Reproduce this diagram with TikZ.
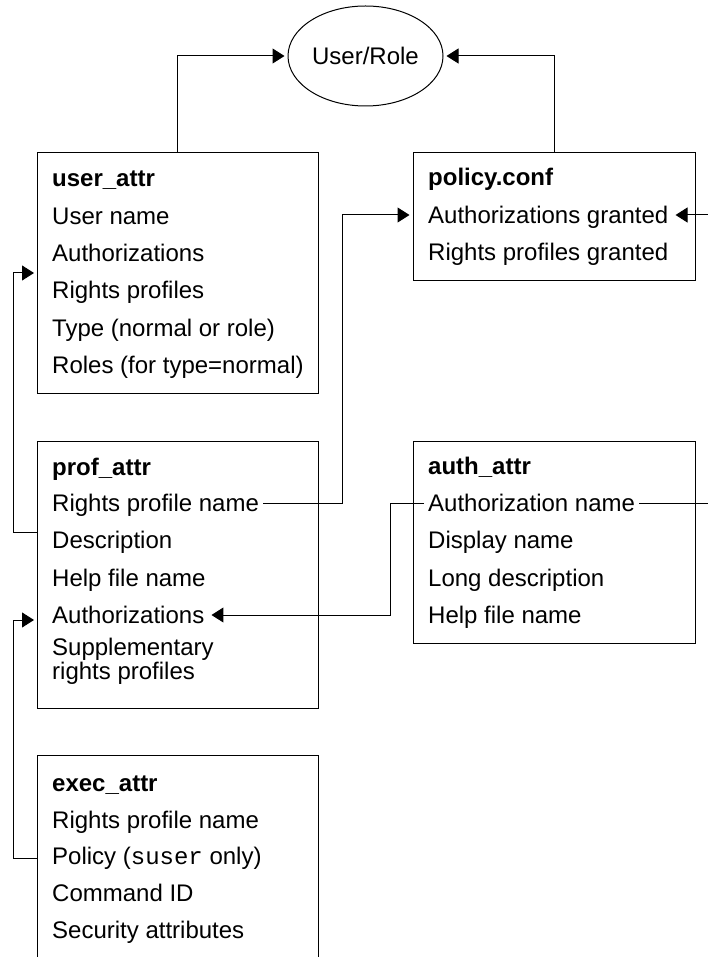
\documentclass[tikz,border=0pt]{standalone}
\usepackage{fontspec}
\setmainfont{Liberation Sans}
\newfontfamily\codefont{Liberation Mono}
\usetikzlibrary{shapes.geometric,arrows.meta}
\begin{document}
\begin{tikzpicture}[x=1pt,y=-1pt,
  every node/.style={font=\fontsize{24}{28}\selectfont},
  box/.style={draw,line width=1pt,rectangle,inner sep=0pt},
  row/.style={anchor=west,inner xsep=4pt,inner ysep=0pt,text height=17pt,text depth=0pt},
  ttl/.style={row,font=\fontsize{24}{28}\selectfont\bfseries},
  conn/.style={line width=1pt},
  arr/.style={conn,-{Triangle[length=12pt,width=15pt]},shorten >=3pt}]
\useasboundingbox (0,0) rectangle (708,957);
\clip (0,0) rectangle (708,957);

% ellipse
\node[draw,ellipse,line width=1pt,minimum width=155pt,minimum height=100pt,inner sep=0pt] (ell) at (365.5,56) {User/Role};

% boxes
\node[box,minimum width=281pt,minimum height=240pt] (ua) at (177.5,273) {};
\node[box,minimum width=282pt,minimum height=128pt] (pc) at (554,217) {};
\node[box,minimum width=281pt,minimum height=267pt] (pa) at (177.5,574.5) {};
\node[box,minimum width=282pt,minimum height=202pt] (aa) at (554,542) {};
\node[box,minimum width=281pt,minimum height=240pt] (ea) at (177.5,875) {};

% user_attr rows
\node[ttl] (uat) at (48,178) {user\_attr};
\node[row] (ua1) at (48,216) {User name};
\node[row] (ua2) at (48,253) {Authorizations};
\node[row] (ua3) at (48,290) {Rights profiles};
\node[row] (ua4) at (48,328) {Type (normal or role)};
\node[row] (ua5) at (48,365) {Roles (for type=normal)};

% policy.conf rows
\node[ttl] (pct) at (424,177) {policy.conf};
\node[row] (pc1) at (424,215) {Authorizations granted};
\node[row] (pc2) at (424,252) {Rights profiles granted};

% prof_attr rows
\node[ttl] (pat) at (48,467) {prof\_attr};
\node[row] (pa1) at (48,503) {Rights profile name};
\node[row] (pa2) at (48,540) {Description};
\node[row] (pa3) at (48,578) {Help file name};
\node[row] (pa4) at (48,615) {Authorizations};
\node[row] (pa5) at (48,647) {Supplementary};
\node[row] (pa6) at (48,671) {rights profiles};

% auth_attr rows
\node[ttl] (aat) at (424,466) {auth\_attr};
\node[row] (aa1) at (424,503) {Authorization name};
\node[row] (aa2) at (424,540) {Display name};
\node[row] (aa3) at (424,578) {Long description};
\node[row] (aa4) at (424,615) {Help file name};

% exec_attr rows
\node[ttl] (eat) at (48,783) {exec\_attr};
\node[row] (ea1) at (48,820) {Rights profile name};
\node[row] (ea2) at (48,856) {Policy ({\codefont suser} only)};
\node[row] (ea3) at (48,893) {Command ID};
\node[row] (ea4) at (48,930) {Security attributes};

% coordinates for connector bends / box-edge attachment points
\coordinate (xl) at (13,0);
\coordinate (xm) at (342,0);
\coordinate (xa) at (390,0);
\coordinate (xr) at (709,0);
\coordinate (uaIn) at (37,273);
\coordinate (paOut) at (37,532);
\coordinate (paIn) at (37,620);
\coordinate (eaOut) at (37,858);

% connectors
\draw[arr] (ua.north) |- (ell.west);
\draw[arr] (pc.north) |- (ell.east);
\draw[arr] (pa1.east) -- (pa1.east -| xm) |- (pc1.west -| pc.west);
\draw[arr] (aa1.east) -- (aa1.east -| xr) |- (pc1.east);
\draw[arr] (aa1.west) -- (aa1.west -| xa) |- (pa4.east);
\draw[arr] (paOut) -- (paOut -| xl) |- (uaIn);
\draw[arr] (eaOut) -- (eaOut -| xl) |- (paIn);
\end{tikzpicture}
\end{document}
